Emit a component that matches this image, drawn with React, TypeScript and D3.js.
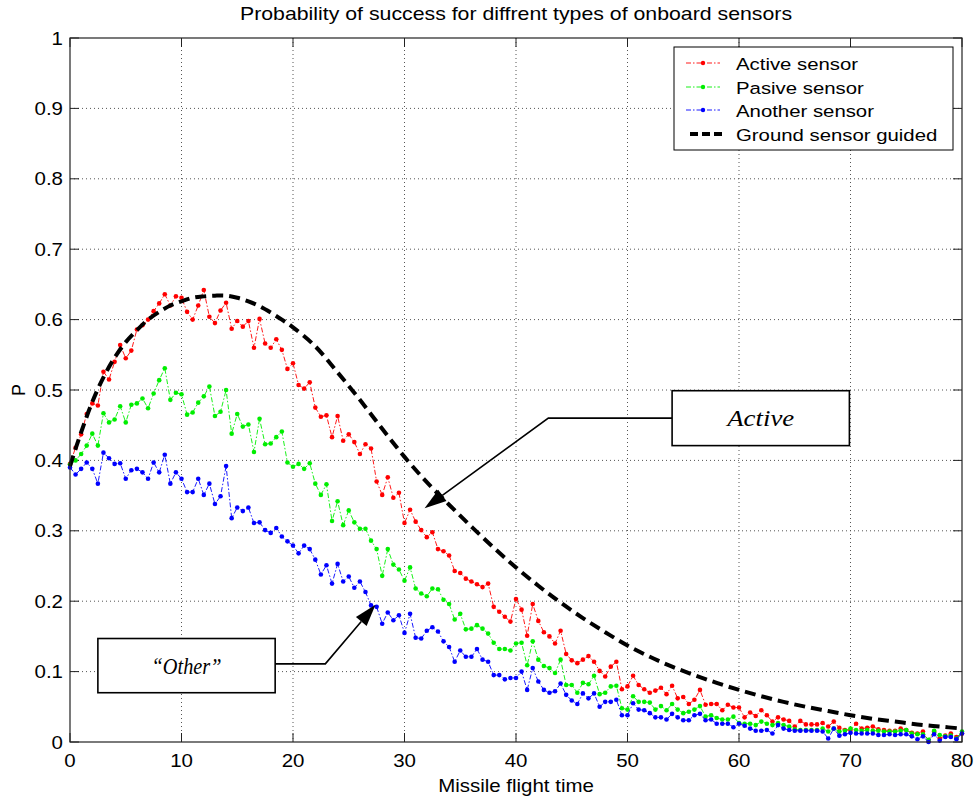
import React from "react";
import * as d3 from "d3";

const TITLE = "Probability of success for diffrent types of onboard sensors";
const X_LABEL = "Missile flight time";
const Y_LABEL = "P";
const X_TICKS = [0, 10, 20, 30, 40, 50, 60, 70, 80];
const Y_TICKS = [0, 0.1, 0.2, 0.3, 0.4, 0.5, 0.6, 0.7, 0.8, 0.9, 1];
const Y_TICK_LABELS = ["0", "0.1", "0.2", "0.3", "0.4", "0.5", "0.6", "0.7", "0.8", "0.9", "1"];
const TIME_STEP = 0.5;

const ACTIVE = [
  0.395, 0.418, 0.437, 0.466, 0.481, 0.478, 0.526, 0.515, 0.540, 0.564,
  0.545, 0.556, 0.586, 0.592, 0.600, 0.612, 0.623, 0.636, 0.620, 0.633,
  0.631, 0.611, 0.600, 0.620, 0.642, 0.604, 0.595, 0.613, 0.624, 0.587,
  0.598, 0.590, 0.598, 0.560, 0.601, 0.566, 0.560, 0.572, 0.557, 0.530,
  0.538, 0.507, 0.502, 0.511, 0.475, 0.462, 0.464, 0.433, 0.463, 0.428,
  0.437, 0.426, 0.409, 0.423, 0.417, 0.370, 0.351, 0.376, 0.347, 0.354,
  0.311, 0.330, 0.313, 0.301, 0.291, 0.298, 0.274, 0.271, 0.265, 0.243,
  0.240, 0.232, 0.228, 0.224, 0.220, 0.225, 0.192, 0.185, 0.178, 0.171,
  0.203, 0.188, 0.151, 0.196, 0.172, 0.156, 0.150, 0.140, 0.158, 0.125,
  0.116, 0.112, 0.117, 0.122, 0.114, 0.101, 0.093, 0.107, 0.114, 0.075,
  0.079, 0.094, 0.081, 0.075, 0.070, 0.073, 0.077, 0.068, 0.080, 0.062,
  0.064, 0.054, 0.060, 0.074, 0.053, 0.054, 0.054, 0.045, 0.053, 0.049,
  0.049, 0.035, 0.042, 0.037, 0.045, 0.038, 0.029, 0.035, 0.032, 0.030,
  0.022, 0.030, 0.025, 0.025, 0.025, 0.027, 0.022, 0.029, 0.020, 0.017,
  0.017, 0.026, 0.019, 0.020, 0.022, 0.018, 0.017, 0.016, 0.016, 0.019,
  0.017, 0.013, 0.012, 0.015, 0.001, 0.015, 0.005, 0.009, 0.012, 0.007,
  0.012,
];

const PASIVE = [
  0.394, 0.400, 0.409, 0.421, 0.438, 0.421, 0.467, 0.454, 0.458, 0.477,
  0.454, 0.479, 0.481, 0.488, 0.474, 0.495, 0.514, 0.531, 0.486, 0.496,
  0.494, 0.465, 0.468, 0.482, 0.491, 0.505, 0.463, 0.469, 0.500, 0.438,
  0.466, 0.448, 0.451, 0.412, 0.459, 0.423, 0.424, 0.433, 0.441, 0.397,
  0.391, 0.395, 0.388, 0.396, 0.367, 0.351, 0.366, 0.314, 0.342, 0.308,
  0.329, 0.312, 0.303, 0.303, 0.286, 0.274, 0.236, 0.274, 0.252, 0.245,
  0.229, 0.248, 0.218, 0.211, 0.207, 0.218, 0.217, 0.202, 0.196, 0.174,
  0.182, 0.160, 0.161, 0.166, 0.161, 0.154, 0.141, 0.132, 0.132, 0.130,
  0.140, 0.141, 0.109, 0.143, 0.117, 0.108, 0.105, 0.098, 0.117, 0.081,
  0.081, 0.070, 0.084, 0.082, 0.094, 0.068, 0.070, 0.079, 0.080, 0.048,
  0.046, 0.065, 0.057, 0.057, 0.056, 0.046, 0.051, 0.045, 0.054, 0.046,
  0.041, 0.043, 0.046, 0.051, 0.036, 0.038, 0.034, 0.032, 0.032, 0.036,
  0.027, 0.026, 0.026, 0.024, 0.029, 0.026, 0.024, 0.027, 0.024, 0.022,
  0.018, 0.017, 0.017, 0.017, 0.017, 0.019, 0.015, 0.019, 0.015, 0.016,
  0.019, 0.017, 0.016, 0.017, 0.016, 0.016, 0.015, 0.015, 0.015, 0.016,
  0.017, 0.012, 0.011, 0.011, 0.003, 0.016, 0.010, 0.008, 0.009, 0.005,
  0.015,
];

const ANOTHER = [
  0.390, 0.380, 0.388, 0.397, 0.388, 0.367, 0.411, 0.403, 0.395, 0.396,
  0.374, 0.386, 0.388, 0.383, 0.374, 0.397, 0.383, 0.408, 0.367, 0.383,
  0.374, 0.355, 0.355, 0.374, 0.351, 0.367, 0.338, 0.349, 0.392, 0.318,
  0.333, 0.328, 0.333, 0.311, 0.312, 0.301, 0.297, 0.304, 0.292, 0.285,
  0.279, 0.268, 0.279, 0.274, 0.259, 0.238, 0.251, 0.225, 0.253, 0.228,
  0.235, 0.219, 0.228, 0.213, 0.194, 0.192, 0.168, 0.184, 0.173, 0.180,
  0.155, 0.182, 0.148, 0.147, 0.158, 0.163, 0.157, 0.143, 0.135, 0.114,
  0.130, 0.121, 0.121, 0.132, 0.117, 0.114, 0.095, 0.095, 0.089, 0.091,
  0.091, 0.100, 0.074, 0.105, 0.086, 0.074, 0.070, 0.072, 0.083, 0.067,
  0.059, 0.054, 0.069, 0.062, 0.069, 0.050, 0.057, 0.057, 0.060, 0.038,
  0.038, 0.055, 0.046, 0.045, 0.041, 0.035, 0.035, 0.032, 0.040, 0.035,
  0.031, 0.031, 0.038, 0.040, 0.031, 0.032, 0.026, 0.026, 0.026, 0.021,
  0.026, 0.023, 0.019, 0.016, 0.016, 0.017, 0.012, 0.024, 0.019, 0.017,
  0.016, 0.016, 0.016, 0.016, 0.016, 0.015, 0.005, 0.019, 0.009, 0.011,
  0.013, 0.012, 0.012, 0.012, 0.012, 0.010, 0.010, 0.011, 0.010, 0.011,
  0.011, 0.008, 0.004, 0.008, 0.000, 0.011, 0.002, 0.007, 0.007, 0.004,
  0.012,
];

const GROUND_T = [
  0, 1, 2, 3, 4, 5, 6, 7, 8, 9, 10, 11, 12, 13, 14, 15, 16, 17, 18, 19, 20,
  22, 24, 26, 28, 30, 32, 34, 36, 38, 40, 42, 44, 46, 48, 50, 52, 54, 56, 58, 60,
  62, 64, 66, 68, 70, 72, 74, 76, 78, 80,
];
const GROUND_P = [
  0.392, 0.440, 0.483, 0.518, 0.546, 0.568, 0.585, 0.600, 0.611, 0.620, 0.626,
  0.631, 0.633, 0.634, 0.634, 0.631, 0.626, 0.619, 0.610, 0.600, 0.589,
  0.562, 0.525, 0.486, 0.445, 0.405, 0.369, 0.337, 0.306, 0.276, 0.248,
  0.222, 0.198, 0.176, 0.156, 0.137, 0.121, 0.107, 0.095, 0.084, 0.074,
  0.065, 0.057, 0.050, 0.044, 0.038, 0.033, 0.029, 0.025, 0.022, 0.019,
];

const SERIES_NAMES = ["Active sensor", "Pasive sensor", "Another sensor"];
const GROUND_NAME = "Ground sensor guided";
const SERIES_COLORS = ["#ff0000", "#00ee00", "#0000ff"];

const ANN_ACTIVE = { text: "Active", box: [54.0, 69.9, 0.499, 0.421], from: [54.0, 0.460], elbow: [42.9, 0.460], tip: [31.8, 0.332] };
const ANN_OTHER = { text: "\u201COther\u201D", box: [2.5, 18.4, 0.147, 0.070], from: [18.4, 0.111], elbow: [22.9, 0.111], tip: [27.4, 0.195] };

const W = 976;
const H = 799;
const M = { left: 70, right: 962, top: 38, bottom: 742 };
const FONT = "'Liberation Sans', Arial, sans-serif";
const SX = 1.17;

function SText({ x, y, anchor = "start", size = 17.5, sx = SX, children, ...rest }) {
  return (
    <text transform={`translate(${x},${y}) scale(${sx},1)`} textAnchor={anchor} fontSize={size} {...rest}>
      {children}
    </text>
  );
}

function Arrow({ ann, x, y, textLen, size }) {
  const [x0, x1, y0, y1] = ann.box;
  const bx = x(x0), bx2 = x(x1), by = y(y0), by2 = y(y1);
  const A = [x(ann.from[0]), y(ann.from[1])];
  const E = [x(ann.elbow[0]), y(ann.elbow[1])];
  const T = [x(ann.tip[0]), y(ann.tip[1])];
  const dx = T[0] - E[0], dy = T[1] - E[1];
  const len = Math.hypot(dx, dy);
  const ux = dx / len, uy = dy / len;
  const L = 22, HW = 7;
  const B = [T[0] - L * ux, T[1] - L * uy];
  const p1 = [B[0] - HW * uy, B[1] + HW * ux];
  const p2 = [B[0] + HW * uy, B[1] - HW * ux];
  const cx = (bx + bx2) / 2, cy = (by + by2) / 2 + 8;
  return (
    <g>
      <polyline points={`${A[0]},${A[1]} ${E[0]},${E[1]} ${B[0]},${B[1]}`} fill="none" stroke="#000" strokeWidth={1.6} />
      <polygon points={`${T[0]},${T[1]} ${p1[0]},${p1[1]} ${p2[0]},${p2[1]}`} fill="#000" />
      <rect x={Math.min(bx, bx2)} y={Math.min(by, by2)} width={Math.abs(bx2 - bx)} height={Math.abs(by2 - by)} fill="#fff" stroke="#000" strokeWidth={1.6} />
      <text x={cx - textLen / 2} y={cy} textLength={textLen} lengthAdjust="spacingAndGlyphs" fontFamily="'Liberation Serif', 'Times New Roman', serif" fontStyle="italic" fontSize={size}>{ann.text}</text>
    </g>
  );
}

export default function App() {
  const x = d3.scaleLinear().domain([0, 80]).range([M.left, M.right]);
  const y = d3.scaleLinear().domain([0, 1]).range([M.bottom, M.top]);
  const series = [ACTIVE, PASIVE, ANOTHER];
  const line = d3.line().x((d) => x(d[0])).y((d) => y(d[1]));
  const gline = d3.line().x((d) => x(d[0])).y((d) => y(d[1])).curve(d3.curveCatmullRom.alpha(0.5));
  const groundPts = GROUND_T.map((t, i) => [t, GROUND_P[i]]);
  const tick = 9;

  const lg = { x: 674, y: 47, w: 279, h: 103 };
  const rowY = [63, 87, 110, 134];

  return (
    <svg width={W} height={H} style={{ position: "absolute", left: 0, top: 0, background: "#fff" }} fontFamily={FONT}>
      <rect x={0} y={0} width={W} height={H} fill="#fff" />
      {/* grid */}
      <g stroke="#555" strokeWidth={1} strokeDasharray="1,3">
        {X_TICKS.slice(1, -1).map((t) => (
          <line key={"gx" + t} x1={x(t)} x2={x(t)} y1={M.top} y2={M.bottom} />
        ))}
        {Y_TICKS.slice(1, -1).map((t) => (
          <line key={"gy" + t} x1={M.left} x2={M.right} y1={y(t)} y2={y(t)} />
        ))}
      </g>
      {/* ticks */}
      <g stroke="#222" strokeWidth={1}>
        {X_TICKS.map((t) => (
          <g key={"tx" + t}>
            <line x1={x(t)} x2={x(t)} y1={M.bottom} y2={M.bottom - tick} />
            <line x1={x(t)} x2={x(t)} y1={M.top} y2={M.top + tick} />
          </g>
        ))}
        {Y_TICKS.map((t) => (
          <g key={"ty" + t}>
            <line x1={M.left} x2={M.left + tick} y1={y(t)} y2={y(t)} />
            <line x1={M.right} x2={M.right - tick} y1={y(t)} y2={y(t)} />
          </g>
        ))}
      </g>
      {/* series */}
      {series.map((s, k) => {
        const pts = s.map((v, i) => [i * TIME_STEP, v]);
        return (
          <g key={"s" + k}>
            <path d={line(pts)} fill="none" stroke={SERIES_COLORS[k]} strokeWidth={0.9} strokeDasharray="5,2,1.5,2" />
            {pts.map((p, i) => (
              <circle key={i} cx={x(p[0])} cy={y(p[1])} r={2.3} fill={SERIES_COLORS[k]} />
            ))}
          </g>
        );
      })}
      <path d={gline(groundPts)} fill="none" stroke="#000" strokeWidth={4} strokeDasharray="11,6" />
      {/* axes box */}
      <rect x={M.left} y={M.top} width={M.right - M.left} height={M.bottom - M.top} fill="none" stroke="#222" strokeWidth={1.2} />
      {/* tick labels */}
      <g fill="#000">
        {X_TICKS.map((t) => (
          <SText key={"lx" + t} x={x(t)} y={M.bottom + 25} anchor="middle">{t}</SText>
        ))}
        {Y_TICKS.map((t, i) => (
          <SText key={"ly" + t} x={M.left - 7} y={y(t) + 6.5} anchor="end">{Y_TICK_LABELS[i]}</SText>
        ))}
      </g>
      <SText x={(M.left + M.right) / 2} y={792} anchor="middle">{X_LABEL}</SText>
      <text transform={`translate(25,${(M.top + M.bottom) / 2}) rotate(-90)`} textAnchor="middle" fontSize={18}>{Y_LABEL}</text>
      <SText x={(M.left + M.right) / 2} y={20} anchor="middle" size={18.2}>{TITLE}</SText>
      {/* annotations */}
      <Arrow ann={ANN_ACTIVE} x={x} y={y} textLen={67} size={23} />
      <Arrow ann={ANN_OTHER} x={x} y={y} textLen={70} size={23} />
      {/* legend */}
      <g>
        <rect x={lg.x} y={lg.y} width={lg.w} height={lg.h} fill="#fff" stroke="#000" strokeWidth={1} />
        {SERIES_NAMES.map((name, k) => (
          <g key={"lg" + k}>
            <line x1={686} x2={720} y1={rowY[k]} y2={rowY[k]} stroke={SERIES_COLORS[k]} strokeWidth={0.9} strokeDasharray="5,2,1.5,2" />
            <circle cx={703} cy={rowY[k]} r={2.2} fill={SERIES_COLORS[k]} />
            <SText x={736} y={rowY[k] + 7} size={17.4}>{name}</SText>
          </g>
        ))}
        <line x1={690} x2={722} y1={rowY[3]} y2={rowY[3]} stroke="#000" strokeWidth={4} strokeDasharray="8,4" />
        <SText x={736} y={rowY[3] + 7} size={17.4}>{GROUND_NAME}</SText>
      </g>
    </svg>
  );
}
